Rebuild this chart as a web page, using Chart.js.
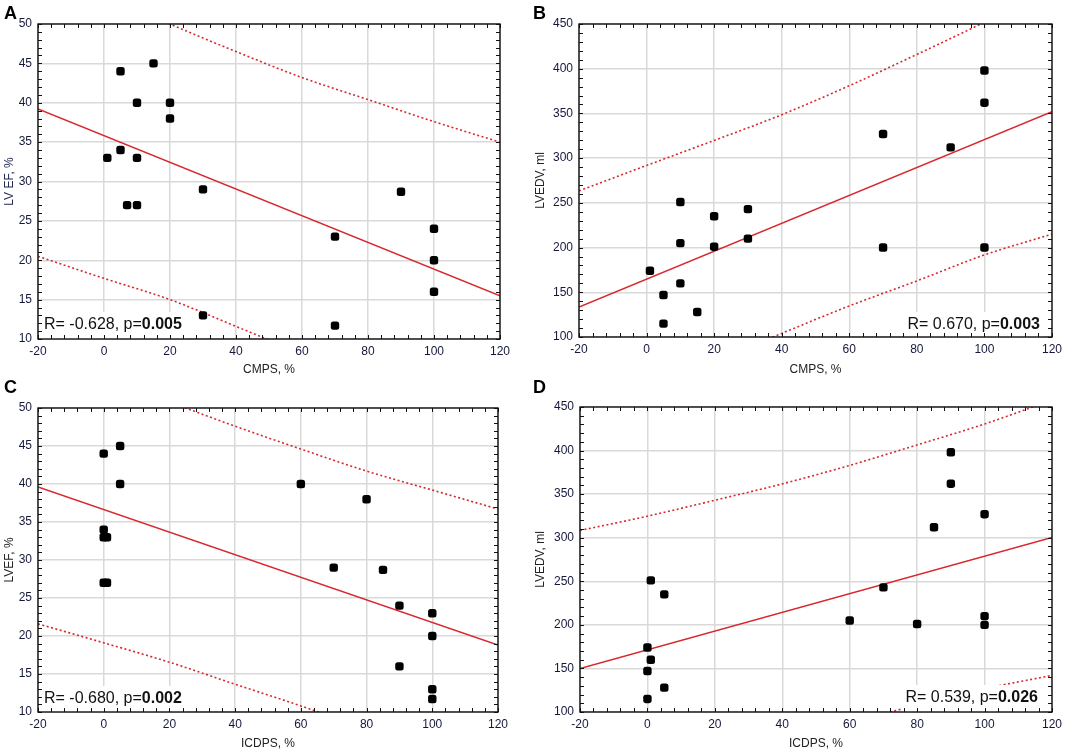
<!DOCTYPE html>
<html><head><meta charset="utf-8">
<script src="https://cdn.jsdelivr.net/npm/chart.js@4.4.1/dist/chart.umd.min.js"></script>
<style>
html,body{margin:0;padding:0;background:#fff;width:1084px;height:752px;overflow:hidden;font-family:"Liberation Sans",Arial,sans-serif}
.panel{position:absolute}
.letter{position:absolute;font:bold 18px "Liberation Sans",Arial,sans-serif;color:#000;line-height:18px}
</style></head><body>
<div class="panel" style="left:0;top:0;width:528px;height:376px"><canvas id="cA"></canvas></div>
<div class="panel" style="left:528px;top:0;width:556px;height:376px"><canvas id="cB"></canvas></div>
<div class="panel" style="left:0;top:376px;width:528px;height:376px"><canvas id="cC"></canvas></div>
<div class="panel" style="left:528px;top:376px;width:556px;height:376px"><canvas id="cD"></canvas></div>
<div class="letter" style="left:4px;top:4px">A</div>
<div class="letter" style="left:533px;top:4px">B</div>
<div class="letter" style="left:4px;top:378px">C</div>
<div class="letter" style="left:533px;top:378px">D</div>
<script>
// ---------- data ----------
const xTicks = [-20, 0, 20, 40, 60, 80, 100, 120];
const bandX = [-20, 0, 20, 40, 60, 80, 100, 120];
const fitX = [-20, 120];

// Panel A: CMPS vs LV EF
const cmpsA = [5, 15, 10, 20, 20, 1, 5, 10, 30, 7, 10, 90, 70, 100, 100, 100, 30, 70];
const lvefA = [44, 45, 40, 40, 38, 33, 34, 33, 29, 27, 27, 28.7, 23, 24, 20, 16, 13, 11.7];
const fitA = [39.2, 15.5];
const upperA = [57.8, 53.8, 50.0, 46.5, 43.2, 40.4, 37.6, 35.0];
const lowerA = [20.5, 17.7, 15.0, 11.6, 8.1, 4.2, 0.2, -4.0];

// Panel B: CMPS vs LVEDV
const cmpsB = [10, 20, 30, 10, 20, 30, 1, 10, 5, 15, 5, 70, 70, 90, 100, 100, 100];
const lvedvB = [251, 235, 243, 205, 201, 210, 174, 160, 147, 128, 115, 327, 200, 312, 398, 362, 200];
const fitB = [133.6, 352];
const upperB = [263.4, 291.8, 319.8, 348.5, 381, 416, 452, 490];
const lowerB = [4, 38, 72, 104, 134.7, 162.7, 191.8, 215];

// Panel C: ICDPS vs LVEF
const icdpsC = [0, 5, 5, 0, 0, 1, 0, 1, 60, 80, 70, 85, 90, 100, 100, 90, 100, 100];
const lvefC = [44, 45, 40, 34, 33, 33, 27, 27, 40, 38, 29, 28.7, 24, 23, 20, 16, 13, 11.7];
const fitC = [39.6, 18.8];
const upperC = [57.6, 54.1, 50.8, 47.6, 44.6, 41.7, 39.2, 36.7];
const lowerC = [21.6, 19.1, 16.55, 13.65, 10.8, 7.7, 4.2, 0.9];

// Panel D: ICDPS vs LVEDV
const icdpsD = [1, 5, 0, 1, 0, 5, 0, 60, 70, 80, 85, 90, 90, 100, 100, 100];
const lvedvD = [251, 235, 174, 160, 147, 128, 115, 205, 243, 201, 312, 398, 362, 327, 210, 200];
const fitD = [150, 300.2];
const upperD = [308.3, 324.7, 343, 361.8, 383, 406.5, 430.5, 458];
const lowerD = [-8.3, 18.3, 42.8, 66.8, 88.4, 107.7, 126.7, 142];

const statsA = ["R= -0.628, p=", "0.005"];
const statsB = ["R= 0.670, p=", "0.003"];
const statsC = ["R= -0.680, p=", "0.002"];
const statsD = ["R= 0.539, p=", "0.026"];

// ---------- drawing ----------
const FONT = '"Liberation Sans", Arial, sans-serif';
const RED = '#d8282d';
const pairs = (xs, ys) => xs.map((x, i) => ({x: x, y: ys[i]}));

const framePlugin = {
  id: 'frame',
  afterDatasetsDraw(chart) {
    const {ctx, chartArea: a, scales} = chart;
    const o = chart.options.plugins.frame;
    ctx.save();
    // statistics label with white backing box
    if (o && o.text) {
      const f1 = '16px ' + FONT, f2 = 'bold 16px ' + FONT;
      ctx.font = f1; const w1 = ctx.measureText(o.text[0]).width;
      ctx.font = f2; const w2 = ctx.measureText(o.text[1]).width;
      const x = o.align === 'left' ? a.left + o.dx : a.right - o.dx - w1 - w2;
      const y = a.bottom - o.dy;
      ctx.fillStyle = '#fff';
      ctx.fillRect(x - 4, y - 17, w1 + w2 + 8, a.bottom - (y - 17));
      ctx.fillStyle = '#111';
      ctx.textBaseline = 'alphabetic';
      ctx.textAlign = 'left';
      ctx.font = f1; ctx.fillText(o.text[0], x, y);
      ctx.font = f2; ctx.fillText(o.text[1], x + w1, y);
    }
    ctx.strokeStyle = '#111';
    ctx.lineWidth = 1;
    const xs = scales.x, ys = scales.y;
    const xStep = xs.options.ticks.stepSize / 5, yStep = ys.options.ticks.stepSize / 5;
    ctx.beginPath();
    for (let v = xs.min; v <= xs.max + 1e-9; v += xStep) {
      const px = Math.round(xs.getPixelForValue(v)) + 0.5;
      ctx.moveTo(px, a.bottom); ctx.lineTo(px, a.bottom - 4);
      ctx.moveTo(px, a.top); ctx.lineTo(px, a.top + 4);
    }
    for (let v = ys.min; v <= ys.max + 1e-9; v += yStep) {
      const py = Math.round(ys.getPixelForValue(v)) + 0.5;
      ctx.moveTo(a.left, py); ctx.lineTo(a.left + 4, py);
      ctx.moveTo(a.right, py); ctx.lineTo(a.right - 4, py);
    }
    ctx.stroke();
    ctx.lineWidth = 1.4;
    ctx.strokeRect(a.left, a.top, a.right - a.left, a.bottom - a.top);
    ctx.restore();
  }
};

function makeChart(id, cfg) {
  const datasets = [
    {data: pairs(bandX, cfg.upper), showLine: true, borderColor: RED, borderWidth: 1.6, borderDash: [2, 2.5], pointRadius: 0, cubicInterpolationMode: 'monotone', clip: 0, order: 3},
    {data: pairs(bandX, cfg.lower), showLine: true, borderColor: RED, borderWidth: 1.6, borderDash: [2, 2.5], pointRadius: 0, cubicInterpolationMode: 'monotone', clip: 0, order: 3},
    {data: pairs(fitX, cfg.fit), showLine: true, borderColor: RED, borderWidth: 1.5, pointRadius: 0, clip: 0, order: 2},
    {data: pairs(cfg.xs, cfg.ys), showLine: false, pointStyle: 'rectRounded', pointRadius: 4.9, pointHoverRadius: 4.9, backgroundColor: '#000', borderColor: '#000', borderWidth: 0, order: 1}
  ];
  const a = cfg.area;
  return new Chart(document.getElementById(id), {
    type: 'scatter',
    data: {datasets},
    plugins: [framePlugin],
    options: {
      responsive: true, maintainAspectRatio: false, animation: false,
      events: [],
      layout: {padding: {left: 0, top: a.top, right: cfg.w - a.right, bottom: 0}},
      plugins: {legend: {display: false}, tooltip: {enabled: false},
        frame: {text: cfg.stats, align: cfg.statAlign, dx: cfg.statDx, dy: cfg.statDy}},
      scales: {
        x: {
          type: 'linear', min: -20, max: 120,
          afterBuildTicks: s => { s.ticks = xTicks.map(v => ({value: v})); },
          ticks: {stepSize: 20, padding: 5, color: '#15183a', font: {family: FONT, size: 12}, maxRotation: 0, autoSkip: false},
          grid: {color: '#d9d9d9', lineWidth: 1.5, drawTicks: false},
          border: {display: false},
          title: {display: true, text: cfg.xTitle, color: '#222', font: {family: FONT, size: 12, lineHeight: 1}, padding: {top: 0, bottom: cfg.xTitlePad}},
          afterFit: s => { s.height = cfg.h - a.bottom; }
        },
        y: {
          type: 'linear', min: cfg.yMin, max: cfg.yMax,
          ticks: {stepSize: cfg.yStep, padding: 6, color: '#15183a', font: {family: FONT, size: 12}},
          grid: {color: '#d9d9d9', lineWidth: 1.5, drawTicks: false},
          border: {display: false},
          title: {display: true, text: cfg.yTitle, color: cfg.yTitleColor || '#222', font: {family: FONT, size: 12, lineHeight: 1.2}, padding: {top: cfg.yTitlePad, bottom: 0}},
          afterFit: s => { s.width = a.left; }
        }
      }
    }
  });
}

makeChart('cA', {w: 528, h: 376, area: {left: 38, right: 500, top: 24, bottom: 339},
  xs: cmpsA, ys: lvefA, fit: fitA, upper: upperA, lower: lowerA,
  yMin: 10, yMax: 50, yStep: 5, xTitle: 'CMPS, %', yTitle: 'LV EF, %', yTitleColor: '#1c2350', xTitlePad: 0, yTitlePad: 2,
  stats: statsA, statAlign: 'left', statDx: 6, statDy: 10});
makeChart('cB', {w: 556, h: 376, area: {left: 51, right: 524, top: 24, bottom: 337},
  xs: cmpsB, ys: lvedvB, fit: fitB, upper: upperB, lower: lowerB,
  yMin: 100, yMax: 450, yStep: 50, xTitle: 'CMPS, %', yTitle: 'LVEDV, ml', xTitlePad: 0, yTitlePad: 5,
  stats: statsB, statAlign: 'right', statDx: 12, statDy: 8});
makeChart('cC', {w: 528, h: 376, area: {left: 38, right: 498, top: 32, bottom: 336},
  xs: icdpsC, ys: lvefC, fit: fitC, upper: upperC, lower: lowerC,
  yMin: 10, yMax: 50, yStep: 5, xTitle: 'ICDPS, %', yTitle: 'LVEF, %', xTitlePad: 2, yTitlePad: 2,
  stats: statsC, statAlign: 'left', statDx: 6, statDy: 9});
makeChart('cD', {w: 556, h: 376, area: {left: 52, right: 524, top: 31, bottom: 336},
  xs: icdpsD, ys: lvedvD, fit: fitD, upper: upperD, lower: lowerD,
  yMin: 100, yMax: 450, yStep: 50, xTitle: 'ICDPS, %', yTitle: 'LVEDV, ml', xTitlePad: 2, yTitlePad: 5,
  stats: statsD, statAlign: 'right', statDx: 14, statDy: 10});
</script>
</body></html>
